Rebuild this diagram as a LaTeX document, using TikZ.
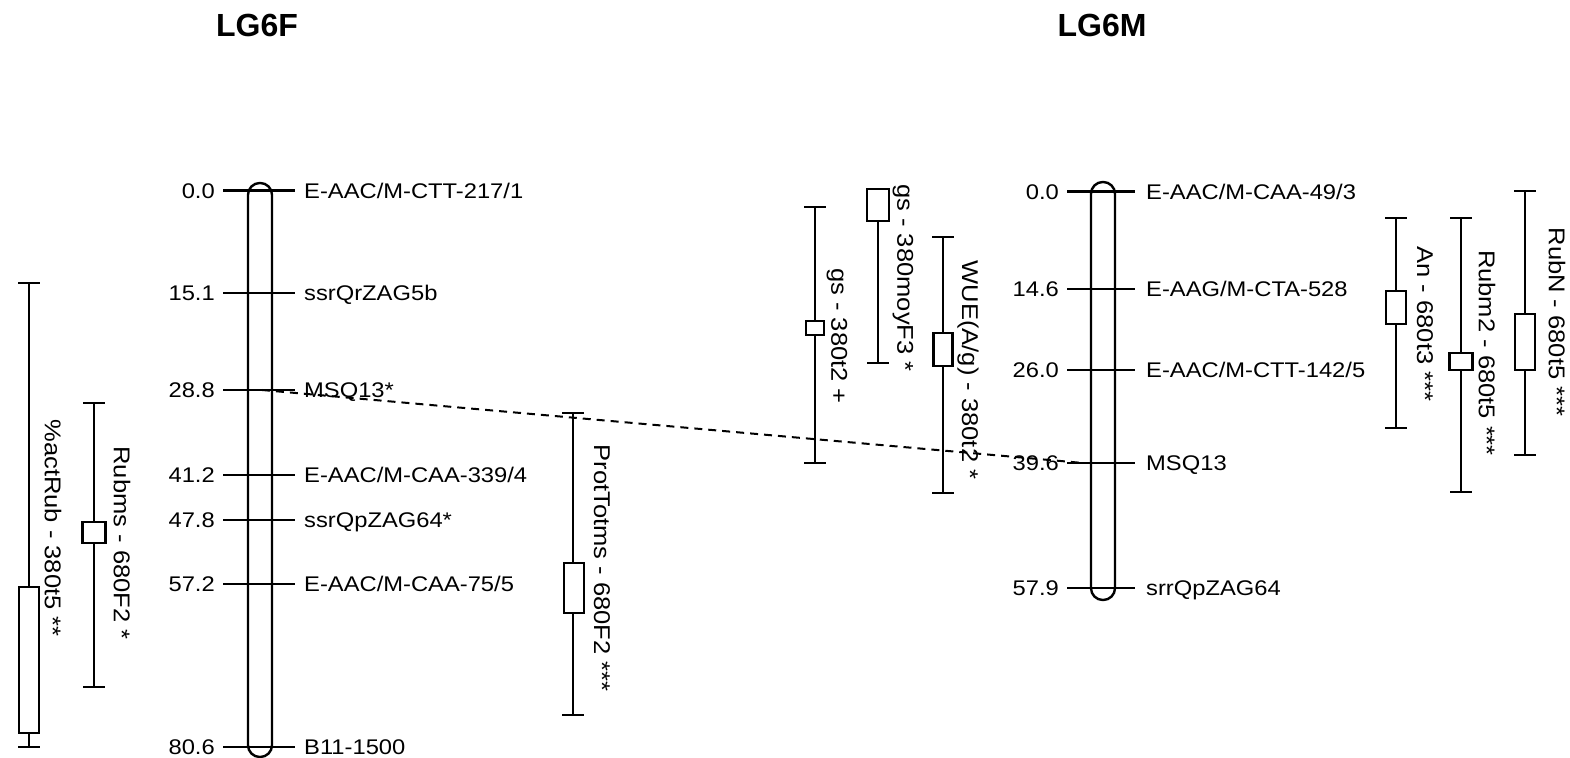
\documentclass[tikz,border=0pt]{standalone}
\usepackage{fontspec}
\setmainfont{Liberation Sans}
\newfontfamily\labfont{Liberation Sans}[FakeStretch=1.12]
\begin{document}
\begin{tikzpicture}[x=0.5pt,y=-0.5pt,line width=1.2pt,
  chrom/.style={draw,line width=1.2pt,rounded corners=5.9pt,minimum width=12pt,inner sep=0pt},
  mtick/.style={line width=1.2pt},
  qline/.style={line width=1.2pt},
  qbox/.style={draw,fill=white,line width=1.2pt,inner sep=0pt},
  mlab/.style={font=\labfont\fontsize{10.6}{12}\selectfont,inner sep=0pt,anchor=base west,yshift=-3.8pt},
  nlab/.style={font=\labfont\fontsize{10.6}{12}\selectfont,inner sep=0pt,anchor=base east,yshift=-3.8pt},
  qlab/.style={font=\labfont\fontsize{11.4}{13}\selectfont,inner sep=0pt,rotate=-90,anchor=center},
  lgtitle/.style={font=\bfseries\fontsize{16}{19}\selectfont,inner sep=0pt},
  linkage/.style={dashed,dash pattern=on 4pt off 3pt,line width=1pt}
]
\useasboundingbox (0,0) rectangle (1570,758);

% titles
\node[lgtitle] (tF) at (257,25) {LG6F};
\node[lgtitle] (tM) at (1102,25) {LG6M};

% chromosomes
\node[chrom,minimum height=287pt] (chF) at (260,470) {};
\node[chrom,minimum height=209pt] (chM) at (1103,391) {};

% LG6F markers
\coordinate (Fa1) at (223,190.7); \coordinate (Fa2) at (295,190.7);
\draw[mtick] (Fa1) -- (Fa2);
\node[nlab] (Fan) at (216,190.7) {0.0};
\node[mlab] (Fam) at (303,190.7) {E-AAC/M-CTT-217/1};

\coordinate (Fb1) at (223,293); \coordinate (Fb2) at (295,293);
\draw[mtick] (Fb1) -- (Fb2);
\node[nlab] (Fbn) at (216,293) {15.1};
\node[mlab] (Fbm) at (303,293) {ssrQrZAG5b};

\coordinate (Fc1) at (223,390); \coordinate (Fc2) at (295,390);
\draw[mtick] (Fc1) -- (Fc2);
\node[nlab] (Fcn) at (216,390) {28.8};
\node[mlab] (Fcm) at (303,390) {MSQ13*};

\coordinate (Fd1) at (223,475); \coordinate (Fd2) at (295,475);
\draw[mtick] (Fd1) -- (Fd2);
\node[nlab] (Fdn) at (216,475) {41.2};
\node[mlab] (Fdm) at (303,475) {E-AAC/M-CAA-339/4};

\coordinate (Fe1) at (223,520); \coordinate (Fe2) at (295,520);
\draw[mtick] (Fe1) -- (Fe2);
\node[nlab] (Fen) at (216,520) {47.8};
\node[mlab] (Fem) at (303,520) {ssrQpZAG64*};

\coordinate (Ff1) at (223,584); \coordinate (Ff2) at (295,584);
\draw[mtick] (Ff1) -- (Ff2);
\node[nlab] (Ffn) at (216,584) {57.2};
\node[mlab] (Ffm) at (303,584) {E-AAC/M-CAA-75/5};

\coordinate (Fg1) at (223,747); \coordinate (Fg2) at (295,747);
\draw[mtick] (Fg1) -- (Fg2);
\node[nlab] (Fgn) at (216,747) {80.6};
\node[mlab] (Fgm) at (303,747) {B11-1500};

% LG6M markers
\coordinate (Ma1) at (1067,191.5); \coordinate (Ma2) at (1135,191.5);
\draw[mtick] (Ma1) -- (Ma2);
\node[nlab] (Man) at (1060,191.5) {0.0};
\node[mlab] (Mam) at (1145,191.5) {E-AAC/M-CAA-49/3};

\coordinate (Mb1) at (1067,289); \coordinate (Mb2) at (1135,289);
\draw[mtick] (Mb1) -- (Mb2);
\node[nlab] (Mbn) at (1060,289) {14.6};
\node[mlab] (Mbm) at (1145,289) {E-AAG/M-CTA-528};

\coordinate (Mc1) at (1067,370); \coordinate (Mc2) at (1135,370);
\draw[mtick] (Mc1) -- (Mc2);
\node[nlab] (Mcn) at (1060,370) {26.0};
\node[mlab] (Mcm) at (1145,370) {E-AAC/M-CTT-142/5};

\coordinate (Md1) at (1067,463); \coordinate (Md2) at (1135,463);
\draw[mtick] (Md1) -- (Md2);
\node[nlab] (Mdn) at (1060,463) {39.6};
\node[mlab] (Mdm) at (1145,463) {MSQ13};

\coordinate (Me1) at (1067,588); \coordinate (Me2) at (1135,588);
\draw[mtick] (Me1) -- (Me2);
\node[nlab] (Men) at (1060,588) {57.9};
\node[mlab] (Mem) at (1145,588) {srrQpZAG64};

% linkage between MSQ13 markers
\coordinate (lkF) at (262,390);
\coordinate (lkM) at (1083,463);
\draw[linkage] (lkF) -- (lkM);

% QTL 1: %actRub
\coordinate (q1t) at (29,283); \coordinate (q1b) at (29,747);
\draw[qline] (q1t) -- (q1b);
\draw[qline] ([xshift=-5.5pt]q1t) -- ([xshift=5.5pt]q1t);
\draw[qline] ([xshift=-5.5pt]q1b) -- ([xshift=5.5pt]q1b);
\node[qbox,minimum width=10pt,minimum height=73pt] (q1box) at (29,660) {};
\node[qlab] (q1lab) at (53,528) {\%actRub - 380t5 **};

% QTL 2: Rubms
\coordinate (q2t) at (94,403); \coordinate (q2b) at (94,687);
\draw[qline] (q2t) -- (q2b);
\draw[qline] ([xshift=-5.5pt]q2t) -- ([xshift=5.5pt]q2t);
\draw[qline] ([xshift=-5.5pt]q2b) -- ([xshift=5.5pt]q2b);
\node[qbox,minimum width=11.5pt,minimum height=10.5pt] (q2box) at (94,532.5) {};
\node[qlab] (q2lab) at (122,543) {Rubms - 680F2 *};

% QTL 3: ProtTotms
\coordinate (q3t) at (573,413); \coordinate (q3b) at (573,715);
\draw[qline] (q3t) -- (q3b);
\draw[qline] ([xshift=-5.5pt]q3t) -- ([xshift=5.5pt]q3t);
\draw[qline] ([xshift=-5.5pt]q3b) -- ([xshift=5.5pt]q3b);
\node[qbox,minimum width=10pt,minimum height=25pt] (q3box) at (574,588) {};
\node[qlab] (q3lab) at (602,568) {ProtTotms - 680F2 ***};

% QTL 4: gs - 380t2
\coordinate (q4t) at (815,207); \coordinate (q4b) at (815,463);
\draw[qline] (q4t) -- (q4b);
\draw[qline] ([xshift=-5.5pt]q4t) -- ([xshift=5.5pt]q4t);
\draw[qline] ([xshift=-5.5pt]q4b) -- ([xshift=5.5pt]q4b);
\node[qbox,minimum width=9pt,minimum height=7pt] (q4box) at (815,328) {};
\node[qlab] (q4lab) at (837,336) {gs - 380t2 +};

% QTL 5: gs - 380moyF3
\node[qbox,minimum width=11pt,minimum height=16pt] (q5box) at (878,205) {};
\coordinate (q5b) at (878,363);
\draw[qline] (q5box.south) -- (q5b);
\draw[qline] ([xshift=-5.5pt]q5b) -- ([xshift=5.5pt]q5b);
\node[qlab] (q5lab) at (903,278) {gs - 380moyF3 *};

% QTL 6: WUE
\coordinate (q6t) at (943,237); \coordinate (q6b) at (943,493);
\draw[qline] (q6t) -- (q6b);
\draw[qline] ([xshift=-5.5pt]q6t) -- ([xshift=5.5pt]q6t);
\draw[qline] ([xshift=-5.5pt]q6b) -- ([xshift=5.5pt]q6b);
\node[qbox,minimum width=9.5pt,minimum height=16.5pt] (q6box) at (943,349.5) {};
\node[qlab] (q6lab) at (968,370) {WUE(A/g) - 380t2 *};

% QTL 7: An
\coordinate (q7t) at (1396,218); \coordinate (q7b) at (1396,428);
\draw[qline] (q7t) -- (q7b);
\draw[qline] ([xshift=-5.5pt]q7t) -- ([xshift=5.5pt]q7t);
\draw[qline] ([xshift=-5.5pt]q7b) -- ([xshift=5.5pt]q7b);
\node[qbox,minimum width=10pt,minimum height=16.5pt] (q7box) at (1396,307.5) {};
\node[qlab] (q7lab) at (1425,324) {An - 680t3 ***};

% QTL 8: Rubm2
\coordinate (q8t) at (1461,218); \coordinate (q8b) at (1461,492);
\draw[qline] (q8t) -- (q8b);
\draw[qline] ([xshift=-5.5pt]q8t) -- ([xshift=5.5pt]q8t);
\draw[qline] ([xshift=-5.5pt]q8b) -- ([xshift=5.5pt]q8b);
\node[qbox,minimum width=11.5pt,minimum height=8.5pt] (q8box) at (1461,361.5) {};
\node[qlab] (q8lab) at (1487,353) {Rubm2 - 680t5 ***};

% QTL 9: RubN
\coordinate (q9t) at (1525,191); \coordinate (q9b) at (1525,455);
\draw[qline] (q9t) -- (q9b);
\draw[qline] ([xshift=-5.5pt]q9t) -- ([xshift=5.5pt]q9t);
\draw[qline] ([xshift=-5.5pt]q9b) -- ([xshift=5.5pt]q9b);
\node[qbox,minimum width=10pt,minimum height=28pt] (q9box) at (1525,342) {};
\node[qlab] (q9lab) at (1557,322) {RubN - 680t5 ***};
\end{tikzpicture}
\end{document}
